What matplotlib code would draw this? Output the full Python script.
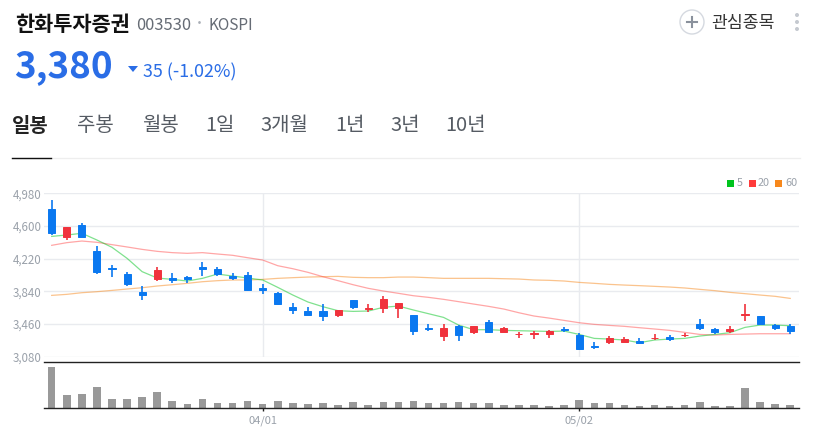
import matplotlib
matplotlib.use('Agg')
import matplotlib.pyplot as plt
from matplotlib.patches import Circle, Polygon, Rectangle

plt.rcParams['font.family'] = ['Noto Sans CJK KR', 'DejaVu Sans']

opens = [4800, 4475, 4610, 4310, 4110, 4040, 3835, 3985, 3995, 4005,
         4125, 4100, 4015, 4025, 3880, 3820, 3655, 3610, 3610, 3570,
         3735, 3640, 3645, 3645, 3565, 3415, 3315, 3435, 3365, 3485,
         3370, 3340, 3345, 3345, 3400, 3330, 3205, 3255, 3255, 3260,
         3295, 3305, 3330, 3465, 3400, 3380, 3570, 3555, 3445, 3435]
highs = [4900, 4585, 4630, 4365, 4145, 4070, 3900, 4120, 4050, 4020,
         4185, 4125, 4050, 4060, 3925, 3830, 3700, 3660, 3690, 3625,
         3735, 3690, 3785, 3705, 3565, 3460, 3460, 3445, 3435, 3505,
         3425, 3370, 3375, 3390, 3425, 3355, 3250, 3320, 3310, 3295,
         3345, 3330, 3355, 3520, 3415, 3435, 3690, 3555, 3465, 3460]
lows = [4495, 4435, 4475, 4040, 4010, 3900, 3740, 3965, 3940, 3940,
        4020, 4020, 3970, 3840, 3810, 3685, 3580, 3565, 3500, 3540,
        3635, 3605, 3590, 3530, 3330, 3380, 3260, 3260, 3345, 3360,
        3365, 3295, 3290, 3300, 3365, 3155, 3175, 3230, 3250, 3230,
        3280, 3260, 3310, 3390, 3345, 3360, 3500, 3450, 3390, 3345]
closes = [4515, 4585, 4475, 4070, 4095, 3930, 3800, 4090, 3970, 3985,
          4105, 4040, 4000, 3850, 3850, 3695, 3625, 3565, 3555, 3620,
          3660, 3645, 3750, 3705, 3380, 3405, 3415, 3335, 3435, 3365,
          3410, 3345, 3350, 3380, 3385, 3175, 3190, 3295, 3285, 3235,
          3300, 3285, 3335, 3410, 3365, 3400, 3575, 3460, 3415, 3380]
ma5 = [4479, 4495, 4515, 4437, 4352, 4224, 4069, 3995, 3979, 3960,
       3991, 4041, 4018, 3995, 3972, 3886, 3797, 3716, 3661, 3615,
       3607, 3611, 3654, 3669, 3623, 3580, 3537, 3448, 3394, 3394,
       3386, 3382, 3378, 3374, 3378, 3339, 3293, 3285, 3274, 3243,
       3274, 3285, 3293, 3320, 3339, 3359, 3421, 3448, 3448, 3440]
ma20 = [4375, 4406, 4425, 4410, 4383, 4356, 4328, 4305, 4290, 4282,
        4290, 4274, 4259, 4231, 4204, 4138, 4103, 4061, 4010, 3964,
        3917, 3875, 3844, 3817, 3789, 3770, 3747, 3720, 3692, 3665,
        3634, 3591, 3553, 3529, 3502, 3475, 3456, 3444, 3433, 3417,
        3402, 3386, 3363, 3339, 3332, 3339, 3343, 3347, 3347, 3347]
ma60 = [3793, 3805, 3824, 3836, 3851, 3867, 3882, 3902, 3917, 3933,
        3952, 3964, 3972, 3972, 3979, 3991, 3999, 4006, 4010, 4014,
        4003, 3999, 3999, 4006, 4006, 3999, 3991, 3991, 3991, 3991,
        3987, 3983, 3972, 3968, 3960, 3944, 3933, 3921, 3913, 3906,
        3898, 3890, 3879, 3863, 3848, 3828, 3813, 3797, 3782, 3758]
volumes = [124, 39, 43, 64, 28, 28, 34, 49, 21, 13,
           28, 15, 15, 22, 13, 22, 15, 13, 15, 10,
           20, 9, 20, 19, 22, 16, 15, 20, 15, 15,
           9, 9, 9, 7, 10, 25, 15, 15, 10, 7,
           10, 7, 10, 19, 7, 7, 61, 19, 13, 10]
price_ticks = [3080, 3460, 3840, 4220, 4600, 4980]
date_ticks = [14, 35]
date_labels = ['04/01', '05/02']
tabs = ['일봉', '주봉', '월봉', '1일', '3개월', '1년', '3년', '10년']
tab_x = [12, 77, 142, 205, 260, 335, 390, 445]

W, H = 813, 429
UP = '#f0323c'
DOWN = '#0a78f0'
GRID = '#e9ebef'
LABEL = '#9aa1aa'


def px_axes(left, top, right, bottom):
    return fig.add_axes([left / W, 1 - bottom / H, (right - left) / W, (bottom - top) / H])


fig = plt.figure(figsize=(W / 100, H / 100), dpi=100)

# header, in pixel coordinates
bg = px_axes(0, 0, W, H)
bg.set_xlim(0, W)
bg.set_ylim(H, 0)
bg.axis('off')
bg.text(15, 24.5, '한화투자증권', fontsize=15, fontweight='bold', color='#111111', va='center')
bg.text(136, 25, '003530', fontsize=11.9, color='#666c75', va='center')
bg.text(199, 23, '·', fontsize=11, color='#a9aeb6', va='center', ha='center', fontweight='bold')
bg.text(208, 25, 'KOSPI', fontsize=11.1, color='#666c75', va='center')
bg.text(14.5, 66.5, '3,380', fontsize=26.5, fontweight='bold', color='#2a6de6', va='center')
bg.add_patch(Polygon([[128, 66], [138, 66], [133, 72]], color='#2a6de6', lw=0))
bg.text(143, 72.5, '35 (-1.02%)', fontsize=12.9, color='#2a6de6', va='center')
for i, (tab, x) in enumerate(zip(tabs, tab_x)):
    bg.text(x, 125.5, tab, fontsize=14.4, va='center',
            color='#222222' if i == 0 else '#555b63',
            fontweight='bold' if i == 0 else 'normal')
bg.plot([12, 800], [157.5, 157.5], color='#eeeeee', lw=0.9)
bg.plot([12, 51], [157.5, 157.5], color='#111111', lw=1)
bg.add_patch(Circle((692, 22), 12, fc='white', ec='#d5d9e0', lw=1))
bg.plot([687, 697], [22, 22], color='#8a919c', lw=1.5)
bg.plot([692, 692], [17, 27], color='#8a919c', lw=1.5)
bg.text(711, 23, '관심종목', fontsize=12.4, color='#333333', va='center')
for y in [15, 22, 29]:
    bg.add_patch(Circle((797, y), 2, fc='#c5c9d0', ec='none'))

# moving average legend
for x, name, color, tx in [(730, '5', '#00c41e', 737), (752, '20', '#ff3b3b', 758), (778, '60', '#f7881c', 785)]:
    bg.add_patch(Rectangle((x - 3.5, 179.5), 7, 7, fc=color, ec='none'))
    bg.text(tx, 183, name, fontsize=7.8, color=LABEL, va='center')

# price panel
x_idx = list(range(len(closes)))
ax = px_axes(44.3, 193.3, 798.5, 356.7)
ax.set_xlim(-0.49, 49.55)
ax.set_ylim(3080, 4980)
ax.set_facecolor('none')
for s in ax.spines.values():
    s.set_visible(False)
ax.set_yticks(price_ticks)
ax.set_yticklabels([f'{p:,}' for p in price_ticks], fontsize=8.3, color=LABEL, ha='left')
ax.tick_params(axis='y', length=0, pad=22.5)
ax.set_xticks([])
ax.grid(False)
for p in price_ticks:
    ax.axhline(p, color=GRID, lw=1, zorder=0)
for d in date_ticks:
    ax.axvline(d, color=GRID, lw=1, zorder=0)
ax.plot(x_idx, ma60, color='#f7881c', alpha=0.5, lw=0.9, zorder=2)
ax.plot(x_idx, ma20, color='#ff3b3b', alpha=0.45, lw=0.9, zorder=2)
ax.plot(x_idx, ma5, color='#00c41e', alpha=0.5, lw=0.9, zorder=2)
colors = [UP if c > o else DOWN for o, c in zip(opens, closes)]
ax.vlines(x_idx, lows, highs, colors=colors, lw=1.2, zorder=3, clip_on=False)
# edge keeps the nearly flat bodies visible as small bars
ax.bar(x_idx, [abs(c - o) for o, c in zip(opens, closes)], bottom=[min(o, c) for o, c in zip(opens, closes)],
       width=0.47, color=colors, edgecolor=colors, linewidth=0.7, zorder=3, clip_on=False)

# volume panel
vol = px_axes(44.3, 362, 798.5, 408.3)
vol.set_xlim(-0.49, 49.55)
vol.set_ylim(0, 139)
vol.set_facecolor('none')
vol.bar(x_idx, volumes, width=0.5, color='#999999')
for name in ['left', 'right']:
    vol.spines[name].set_visible(False)
for name in ['top', 'bottom']:
    vol.spines[name].set_color('#222222')
    vol.spines[name].set_linewidth(1)
vol.set_yticks([])
vol.set_xticks(date_ticks)
vol.set_xticklabels(date_labels, fontsize=8, color=LABEL)
vol.tick_params(axis='x', length=2.5, width=1, color='#222222', pad=3)

fig.savefig('out.png', dpi=100)
